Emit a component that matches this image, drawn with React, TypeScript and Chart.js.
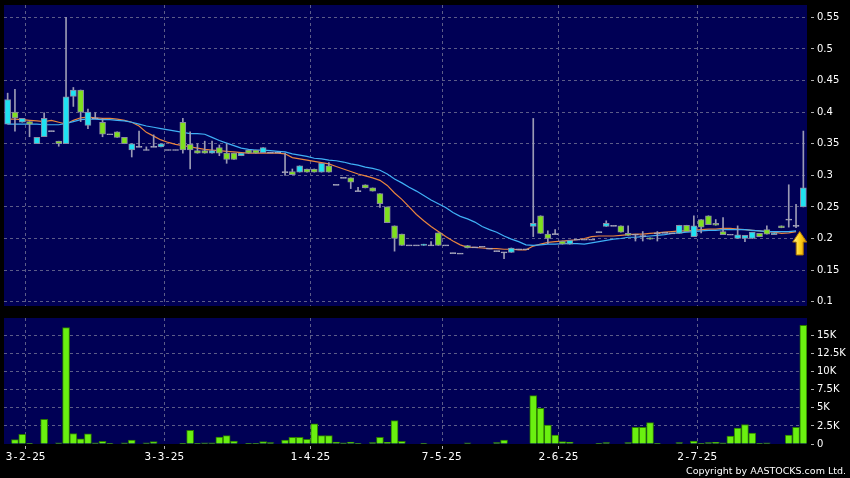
import React, { useEffect, useRef } from 'react';
import { Chart, registerables } from 'chart.js';

Chart.register(...registerables);

// ---- data (one entry per trading day, oldest first) ----
const opens = [
  0.381, 0.400, 0.384, 0.385, 0.350, 0.361, 0.370, 0.354, 0.350, 0.425,
  0.435, 0.379, 0.390, 0.384, 0.365, 0.369, 0.360, 0.340, 0.345, 0.340,
  0.345, 0.345, 0.340, 0.340, 0.384, 0.349, 0.339, 0.339, 0.335, 0.344,
  0.335, 0.335, 0.331, 0.340, 0.340, 0.336, 0.336, 0.336, 0.305, 0.306,
  0.305, 0.310, 0.310, 0.305, 0.315, 0.285, 0.296, 0.296, 0.275, 0.285,
  0.280, 0.271, 0.250, 0.220, 0.207, 0.189, 0.189, 0.189, 0.189, 0.209,
  0.189, 0.177, 0.176, 0.189, 0.186, 0.187, 0.184, 0.180, 0.178, 0.178,
  0.183, 0.183, 0.219, 0.236, 0.207, 0.207, 0.196, 0.191, 0.198, 0.198,
  0.198, 0.210, 0.219, 0.220, 0.220, 0.208, 0.206, 0.204, 0.201, 0.208,
  0.209, 0.208, 0.208, 0.221, 0.203, 0.230, 0.236, 0.224, 0.211, 0.206,
  0.200, 0.200, 0.200, 0.208, 0.214, 0.206, 0.220, 0.230, 0.220, 0.250,
];
const highs = [
  0.430, 0.436, 0.390, 0.385, 0.360, 0.399, 0.370, 0.354, 0.550, 0.439,
  0.435, 0.405, 0.399, 0.390, 0.365, 0.369, 0.360, 0.350, 0.370, 0.345,
  0.364, 0.350, 0.340, 0.340, 0.390, 0.369, 0.350, 0.354, 0.354, 0.348,
  0.350, 0.335, 0.335, 0.340, 0.340, 0.344, 0.336, 0.336, 0.335, 0.310,
  0.315, 0.310, 0.310, 0.319, 0.320, 0.285, 0.296, 0.296, 0.281, 0.285,
  0.280, 0.271, 0.250, 0.220, 0.207, 0.189, 0.189, 0.191, 0.195, 0.209,
  0.189, 0.177, 0.176, 0.189, 0.186, 0.187, 0.184, 0.180, 0.178, 0.185,
  0.183, 0.183, 0.390, 0.236, 0.212, 0.214, 0.196, 0.197, 0.198, 0.198,
  0.198, 0.210, 0.228, 0.220, 0.220, 0.220, 0.206, 0.211, 0.201, 0.211,
  0.209, 0.208, 0.221, 0.221, 0.236, 0.230, 0.236, 0.230, 0.233, 0.206,
  0.220, 0.205, 0.210, 0.208, 0.220, 0.209, 0.220, 0.285, 0.254, 0.370,
];
const lows = [
  0.381, 0.370, 0.384, 0.361, 0.350, 0.361, 0.370, 0.346, 0.350, 0.409,
  0.385, 0.374, 0.390, 0.361, 0.365, 0.360, 0.350, 0.329, 0.345, 0.340,
  0.345, 0.345, 0.340, 0.340, 0.335, 0.310, 0.335, 0.335, 0.335, 0.331,
  0.319, 0.325, 0.331, 0.335, 0.335, 0.336, 0.336, 0.336, 0.300, 0.301,
  0.305, 0.305, 0.305, 0.305, 0.305, 0.285, 0.296, 0.279, 0.275, 0.280,
  0.275, 0.249, 0.225, 0.180, 0.189, 0.189, 0.189, 0.189, 0.189, 0.189,
  0.189, 0.177, 0.176, 0.185, 0.186, 0.187, 0.184, 0.180, 0.168, 0.178,
  0.183, 0.183, 0.203, 0.208, 0.192, 0.207, 0.191, 0.191, 0.198, 0.198,
  0.198, 0.210, 0.219, 0.220, 0.210, 0.205, 0.196, 0.196, 0.199, 0.196,
  0.209, 0.208, 0.208, 0.211, 0.203, 0.209, 0.222, 0.221, 0.206, 0.206,
  0.200, 0.195, 0.200, 0.203, 0.207, 0.206, 0.217, 0.218, 0.217, 0.250,
];
const closes = [
  0.420, 0.391, 0.390, 0.381, 0.360, 0.390, 0.370, 0.350, 0.424, 0.435,
  0.400, 0.400, 0.390, 0.365, 0.365, 0.360, 0.350, 0.350, 0.345, 0.340,
  0.345, 0.350, 0.340, 0.340, 0.340, 0.340, 0.335, 0.335, 0.339, 0.335,
  0.325, 0.325, 0.335, 0.335, 0.335, 0.344, 0.336, 0.336, 0.305, 0.301,
  0.315, 0.305, 0.305, 0.319, 0.305, 0.285, 0.296, 0.289, 0.275, 0.280,
  0.275, 0.255, 0.225, 0.200, 0.189, 0.189, 0.189, 0.191, 0.189, 0.189,
  0.189, 0.177, 0.176, 0.185, 0.186, 0.187, 0.184, 0.180, 0.178, 0.185,
  0.183, 0.183, 0.224, 0.208, 0.200, 0.207, 0.191, 0.197, 0.198, 0.198,
  0.198, 0.210, 0.224, 0.220, 0.210, 0.205, 0.206, 0.204, 0.199, 0.208,
  0.209, 0.208, 0.221, 0.211, 0.220, 0.218, 0.222, 0.221, 0.206, 0.206,
  0.206, 0.205, 0.210, 0.203, 0.207, 0.209, 0.217, 0.230, 0.220, 0.280,
];
const volumes = [
  0, 600, 1350, 100, 0, 3400, 0, 150, 16100, 1450,
  700, 1400, 150, 370, 50, 0, 150, 550, 0, 150,
  330, 0, 0, 0, 100, 1900, 100, 150, 150, 970,
  1150, 420, 0, 100, 100, 330, 180, 0, 550, 930,
  930, 650, 2800, 1150, 1150, 280, 150, 280, 100, 0,
  200, 930, 230, 3250, 370, 0, 0, 100, 0, 0,
  0, 0, 0, 150, 0, 0, 0, 200, 550, 0,
  0, 0, 6700, 4950, 2600, 1250, 330, 280, 0, 0,
  0, 100, 200, 0, 0, 200, 2300, 2300, 2950, 100,
  0, 0, 200, 0, 420, 100, 200, 230, 150, 1100,
  2200, 2700, 1500, 100, 150, 0, 0, 1250, 2300, 16400,
];
const maShort = [
  0.389, 0.389, 0.388, 0.387, 0.386, 0.385, 0.387, 0.384, 0.381, 0.387,
  0.391, 0.392, 0.391, 0.390, 0.390, 0.389, 0.387, 0.384, 0.378, 0.368,
  0.362, 0.356, 0.352, 0.349, 0.347, 0.345, 0.343, 0.341, 0.340, 0.339,
  0.338, 0.337, 0.336, 0.335, 0.335, 0.335, 0.335, 0.335, 0.334, 0.328,
  0.326, 0.324, 0.322, 0.320, 0.318, 0.314, 0.310, 0.306, 0.302, 0.299,
  0.296, 0.292, 0.284, 0.272, 0.262, 0.250, 0.238, 0.228, 0.219, 0.211,
  0.203, 0.196, 0.190, 0.186, 0.186, 0.185, 0.184, 0.184, 0.183, 0.183,
  0.182, 0.182, 0.188, 0.191, 0.194, 0.195, 0.196, 0.197, 0.198, 0.200,
  0.203, 0.204, 0.204, 0.204, 0.205, 0.206, 0.207, 0.207, 0.208, 0.209,
  0.210, 0.211, 0.212, 0.212, 0.213, 0.214, 0.215, 0.215, 0.216, 0.216,
  0.215, 0.214, 0.213, 0.212, 0.211, 0.210, 0.208, 0.209, 0.211, null,
];
const maLong = [
  0.381, 0.381, 0.381, 0.381, 0.381, 0.380, 0.380, 0.380, 0.382, 0.385,
  0.388, 0.389, 0.389, 0.388, 0.388, 0.387, 0.386, 0.384, 0.381, 0.378,
  0.376, 0.374, 0.372, 0.370, 0.368, 0.366, 0.366, 0.365, 0.360, 0.355,
  0.351, 0.347, 0.343, 0.341, 0.340, 0.340, 0.339, 0.338, 0.337, 0.334,
  0.332, 0.330, 0.327, 0.326, 0.324, 0.323, 0.321, 0.318, 0.316, 0.313,
  0.311, 0.308, 0.302, 0.294, 0.288, 0.281, 0.275, 0.268, 0.261, 0.255,
  0.249, 0.241, 0.235, 0.231, 0.226, 0.219, 0.214, 0.210, 0.204, 0.199,
  0.195, 0.190, 0.189, 0.190, 0.191, 0.191, 0.192, 0.192, 0.192, 0.191,
  0.193, 0.195, 0.197, 0.199, 0.200, 0.202, 0.202, 0.203, 0.204, 0.205,
  0.206, 0.208, 0.209, 0.210, 0.211, 0.212, 0.213, 0.213, 0.214, 0.214,
  0.214, 0.214, 0.213, 0.212, 0.211, 0.211, 0.211, 0.211, 0.212, null,
];
const categories = opens.map((_, i) => String(i));
const dateTickIndex = [3, 22, 42, 60, 76, 95];
const dateTickText = ['3-2-25', '3-3-25', '1-4-25', '7-5-25', '2-6-25', '2-7-25'];
const priceTicks = [0.1, 0.15, 0.2, 0.25, 0.3, 0.35, 0.4, 0.45, 0.5, 0.55];
const volumeTicks = [0, 2500, 5000, 7500, 10000, 12500, 15000];
const priceRange = { min: 0.0932, max: 0.5695 };
const volumeRange = { min: 0, max: 17430 };
const arrowMark = { index: 108.5, tip: 0.211, base: 0.174 };

// ---- styles ----
const NAVY = '#000055';
const GRID = '#5c5c88';
const CYAN = '#1fe2f2';
const GREEN = '#7fe01e';
const DOJI = '#a8a8bc';
const BODY_EDGE = '#8a8aa4';
const WICK = '#9a9ab4';
const VOL_FILL = '#6af010';
const VOL_EDGE = '#2c7a00';
const DOJI_HALF = 0.0008;

Chart.defaults.font.family = '"DejaVu Sans", sans-serif';

const panelBg = {
  id: 'panelBg',
  beforeDraw(chart: any) {
    const { ctx, chartArea: a } = chart;
    ctx.save();
    ctx.fillStyle = NAVY;
    ctx.fillRect(a.left, a.top, a.right - a.left, a.bottom - a.top);
    ctx.restore();
  },
};

const arrowPlugin = {
  id: 'arrowMark',
  afterDatasetsDraw(chart: any) {
    const { ctx } = chart;
    const xs = chart.scales.x;
    const ys = chart.scales.y;
    const cx = xs.getPixelForValue(arrowMark.index);
    const yt = ys.getPixelForValue(arrowMark.tip);
    const yb = ys.getPixelForValue(arrowMark.base);
    const h = yb - yt;
    const headH = h * 0.45;
    const hw = 7;
    const sw = 3.5;
    ctx.save();
    const g = ctx.createLinearGradient(cx - hw, 0, cx + hw, 0);
    g.addColorStop(0, '#fff3a0');
    g.addColorStop(0.5, '#ffd21a');
    g.addColorStop(1, '#e09a00');
    ctx.beginPath();
    ctx.moveTo(cx, yt);
    ctx.lineTo(cx + hw, yt + headH);
    ctx.lineTo(cx + sw, yt + headH);
    ctx.lineTo(cx + sw, yb);
    ctx.lineTo(cx - sw, yb);
    ctx.lineTo(cx - sw, yt + headH);
    ctx.lineTo(cx - hw, yt + headH);
    ctx.closePath();
    ctx.fillStyle = g;
    ctx.fill();
    ctx.strokeStyle = '#b07800';
    ctx.lineWidth = 1;
    ctx.stroke();
    ctx.restore();
  },
};

const isDateTick = (i: number) => dateTickIndex.includes(i);

function xAxis(showLabels: boolean) {
  return {
    type: 'category' as const,
    offset: true,
    grid: {
      offset: true,
      color: (c: any) => (isDateTick(c.index) ? GRID : 'transparent'),
      drawTicks: showLabels,
      tickLength: 5,
      tickColor: (c: any) => (isDateTick(c.index) ? '#b0b0b0' : 'transparent'),
      tickBorderDash: [0, 2, 3, 20],
    },
    border: { display: false, dash: [3, 3] },
    ticks: {
      display: showLabels,
      autoSkip: false,
      maxRotation: 0,
      minRotation: 0,
      color: '#ffffff',
      padding: 3,
      labelOffset: -4,
      font: { family: '"DejaVu Sans Mono", monospace', size: 11, lineHeight: 1 },
      callback: (_v: any, i: number) => {
        const k = dateTickIndex.indexOf(i);
        return k >= 0 ? dateTickText[k] : '';
      },
    },
    afterFit: (s: any) => {
      s.height = showLabels ? 34 : 0;
      s.paddingLeft = 0;
      s.paddingRight = 0;
    },
  };
}

function yAxis(range: { min: number; max: number }, ticks: number[], fmt: (v: number) => string) {
  return {
    position: 'right' as const,
    min: range.min,
    max: range.max,
    afterBuildTicks: (s: any) => {
      s.ticks = ticks.map((v) => ({ value: v }));
    },
    afterFit: (s: any) => {
      s.width = 43;
      s.paddingTop = 0;
      s.paddingBottom = 0;
    },
    grid: {
      color: (c: any) => (c.tick && c.tick.value === 0 ? 'transparent' : GRID),
      drawTicks: true,
      tickLength: 7,
      tickColor: '#b0b0b0',
      tickBorderDash: [0, 4, 3, 30],
    },
    border: { display: false, dash: [3, 3] },
    ticks: {
      color: '#ffffff',
      padding: 3,
      font: { size: 10, lineHeight: 1 },
      callback: (v: any) => fmt(Number(v)),
    },
  };
}

export default function App() {
  const priceRef = useRef<HTMLCanvasElement>(null);
  const volRef = useRef<HTMLCanvasElement>(null);

  useEffect(() => {
    const bodies = opens.map((o, i) =>
      o === closes[i] ? [o - DOJI_HALF, o + DOJI_HALF] : [o, closes[i]]
    );
    const bodyColors = opens.map((o, i) =>
      closes[i] > o ? CYAN : closes[i] < o ? GREEN : DOJI
    );
    const bodyEdges = opens.map((o, i) => (closes[i] === o ? DOJI : BODY_EDGE));
    const wicks = lows.map((l, i) => [l, highs[i]]);

    const price = new Chart(priceRef.current as HTMLCanvasElement, {
      type: 'bar',
      data: {
        labels: categories,
        datasets: [
          {
            type: 'line',
            label: 'MA short',
            data: maShort as any,
            borderColor: '#e8843e',
            borderWidth: 1.2,
            pointRadius: 0,
            fill: false,
            order: 4,
          } as any,
          {
            type: 'line',
            label: 'MA long',
            data: maLong as any,
            borderColor: '#3fb0f5',
            borderWidth: 1.2,
            pointRadius: 0,
            fill: false,
            order: 3,
          } as any,
          {
            type: 'bar',
            label: 'wick',
            data: wicks as any,
            backgroundColor: WICK,
            barThickness: 1,
            grouped: false,
            order: 2,
          } as any,
          {
            type: 'bar',
            label: 'body',
            data: bodies as any,
            backgroundColor: bodyColors,
            borderColor: bodyEdges,
            borderWidth: 1,
            borderSkipped: false,
            barThickness: 6,
            grouped: false,
            order: 1,
          } as any,
        ],
      },
      options: {
        animation: false,
        responsive: false,
        maintainAspectRatio: false,
        events: [],
        layout: { padding: { left: 4, top: 5, right: 0, bottom: 6 } },
        plugins: { legend: { display: false }, tooltip: { enabled: false } },
        scales: {
          x: xAxis(false) as any,
          y: yAxis(priceRange, priceTicks, (v) => String(v)) as any,
        },
      },
      plugins: [panelBg, arrowPlugin],
    });

    const vol = new Chart(volRef.current as HTMLCanvasElement, {
      type: 'bar',
      data: {
        labels: categories,
        datasets: [
          {
            label: 'Volume',
            data: volumes,
            backgroundColor: VOL_FILL,
            borderColor: VOL_EDGE,
            borderWidth: 1,
            borderSkipped: 'start',
            barThickness: 7,
          } as any,
        ],
      },
      options: {
        animation: false,
        responsive: false,
        maintainAspectRatio: false,
        events: [],
        layout: { padding: { left: 4, top: 6, right: 0, bottom: 0 } },
        plugins: { legend: { display: false }, tooltip: { enabled: false } },
        scales: {
          x: xAxis(true) as any,
          y: yAxis(volumeRange, volumeTicks, (v) => (v === 0 ? '0' : `${v / 1000}K`)) as any,
        },
      },
      plugins: [panelBg],
    });

    return () => {
      price.destroy();
      vol.destroy();
    };
  }, []);

  return (
    <div
      style={{
        position: 'fixed',
        left: 0,
        top: 0,
        width: 850,
        height: 478,
        background: '#000',
        overflow: 'hidden',
      }}
    >
      <canvas
        ref={priceRef}
        width={850}
        height={312}
        style={{ position: 'absolute', left: 0, top: 0, width: 850, height: 312 }}
      />
      <canvas
        ref={volRef}
        width={850}
        height={166}
        style={{ position: 'absolute', left: 0, top: 312, width: 850, height: 166 }}
      />
      <div
        style={{
          position: 'absolute',
          right: 4,
          top: 465,
          color: '#ffffff',
          fontFamily: '"DejaVu Sans", sans-serif',
          fontSize: 9.5,
          lineHeight: '12px',
          whiteSpace: 'nowrap',
        }}
      >
        Copyright by AASTOCKS.com Ltd.
      </div>
    </div>
  );
}
